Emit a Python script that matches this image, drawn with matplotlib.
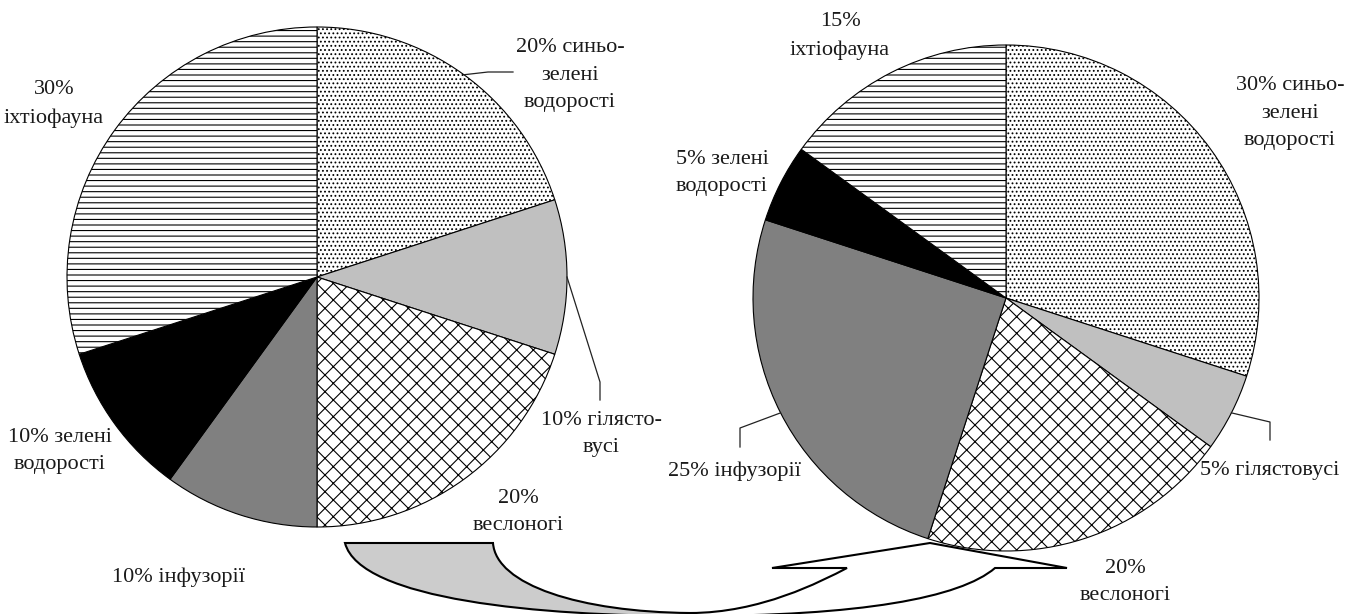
import numpy as np
import matplotlib.pyplot as plt
from matplotlib.path import Path
from matplotlib.patches import PathPatch, Rectangle

W, H = 1349, 614

# share of each group, before and after (percent)
groups = ["синьо-зелені водорості", "гілястовусі", "веслоногі",
          "інфузорії", "зелені водорості", "іхтіофауна"]
before = [20, 10, 20, 10, 10, 30]
after = [30, 5, 20, 25, 5, 15]

left_labels = ["20% синьо-\nзелені\nводорості", "10% гілясто-\nвусі",
               "20%\nвеслоногі", "10% інфузорії",
               "10% зелені\nводорості", "30%\nіхтіофауна"]
right_labels = ["30% синьо-\nзелені\nводорості", "5% гілястовусі",
                "20%\nвеслоногі", "25% інфузорії",
                "5% зелені\nводорості", "15%\nіхтіофауна"]

colors = ["white", "#c0c0c0", "white", "#808080", "black", "white"]
hatches = ["....", "", "xx", "", "", "---"]

plt.rcParams['hatch.linewidth'] = 0.8
plt.rcParams['font.family'] = ['Liberation Serif', 'DejaVu Serif']


def P(x, y):
    # picture coords (y down) -> data coords (y up)
    return x, H - y


fig = plt.figure(figsize=(W / 100, H / 100), dpi=100)
ax = fig.add_axes([0, 0, 1, 1])


def draw_pie(values, center, radius, labels, label_pos, leaders):
    wedges, _ = ax.pie(values, colors=colors, hatch=hatches, startangle=90,
                       counterclock=False, radius=radius, center=P(*center),
                       wedgeprops=dict(edgecolor='black', linewidth=0.8))
    for lab, (x, y) in zip(labels, label_pos):
        ax.text(*P(x, y), lab, ha='center', va='center', fontsize=16,
                linespacing=1.6, color='#1a1a1a')
    for i, pts in leaders.items():
        w = wedges[i]
        a = np.deg2rad((w.theta1 + w.theta2) / 2)
        x0 = w.center[0] + w.r * np.cos(a)
        y0 = w.center[1] + w.r * np.sin(a)
        xs = [x0] + [p[0] for p in pts]
        ys = [y0] + [H - p[1] for p in pts]
        ax.plot(xs, ys, color='#222222', lw=0.9)


draw_pie(before, (317, 277), 250, left_labels,
         [(570, 75), (601, 434), (518, 512), (178, 577), (60, 451), (54, 104)],
         {0: [(488, 72), (513, 72)], 1: [(600, 382), (600, 400)]})
draw_pie(after, (1006, 298), 253, right_labels,
         [(1290, 113), (1270, 470), (1125, 582), (734, 471), (722, 173), (840, 36)],
         {1: [(1270, 422), (1270, 440)], 3: [(740, 428), (740, 447)]})

# curved arrow from the first pie to the second
verts = [P(345, 543), P(493, 543),
         P(496, 585), P(580, 612), P(690, 613),
         P(760, 613), P(820, 582), P(847, 568),
         P(772, 568), P(930, 543), P(1067, 568), P(995, 568),
         P(960, 598), P(860, 616), P(690, 616),
         P(540, 616), P(360, 600), P(345, 543),
         P(345, 543)]
codes = [Path.MOVETO, Path.LINETO,
         Path.CURVE4, Path.CURVE4, Path.CURVE4,
         Path.CURVE4, Path.CURVE4, Path.CURVE4,
         Path.LINETO, Path.LINETO, Path.LINETO, Path.LINETO,
         Path.CURVE4, Path.CURVE4, Path.CURVE4,
         Path.CURVE4, Path.CURVE4, Path.CURVE4,
         Path.CLOSEPOLY]
arrow = Path(verts, codes)
ax.add_patch(PathPatch(arrow, facecolor='white', edgecolor='none', zorder=3))
gray = PathPatch(arrow, facecolor='#cccccc', edgecolor='none', zorder=3)
ax.add_patch(gray)
gray.set_clip_path(Rectangle((0, 0), 690, H, transform=ax.transData))
ax.add_patch(PathPatch(arrow, facecolor='none', edgecolor='black', lw=1.5,
                       zorder=4, joinstyle='miter'))

ax.set_xlim(0, W)
ax.set_ylim(0, H)
ax.set_aspect('equal')
ax.axis('off')

fig.savefig('out.png', dpi=100, facecolor='white')
